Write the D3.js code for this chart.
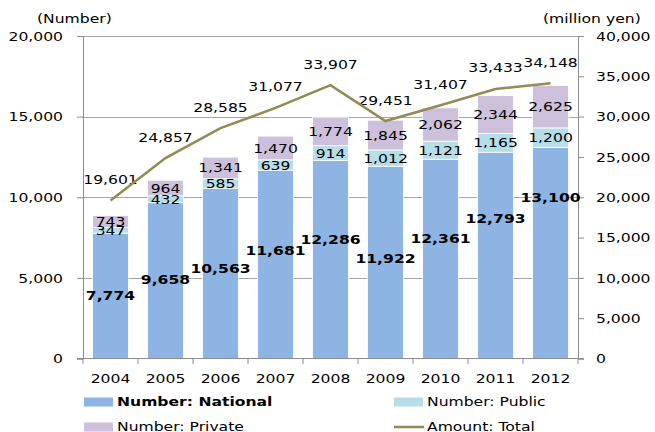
<!DOCTYPE html>
<html>
<head>
<meta charset="utf-8">
<script src="https://cdn.jsdelivr.net/npm/d3@7"></script>
<style>
  body { margin: 0; background: #fff; }
  svg { font-family: "DejaVu Sans", Verdana, sans-serif; }
</style>
</head>
<body>
<svg id="chart" width="655" height="432"></svg>
<script>
"use strict";

const years = ["2004", "2005", "2006", "2007", "2008", "2009", "2010", "2011", "2012"];
const national = [7774, 9658, 10563, 11681, 12286, 11922, 12361, 12793, 13100];
const publicNum = [347, 432, 585, 639, 914, 1012, 1121, 1165, 1200];
const privateNum = [743, 964, 1341, 1470, 1774, 1845, 2062, 2344, 2625];
const amountTotal = [19601, 24857, 28585, 31077, 33907, 29451, 31407, 33433, 34148];
// where Excel left the bold national labels (in "Number" units)
const nationalLabelAt = [3880, 4870, 5600, 6680, 7360, 6220, 7470, 8660, 10010];
const leftTicks = [0, 5000, 10000, 15000, 20000];
const rightTicks = [0, 5000, 10000, 15000, 20000, 25000, 30000, 35000, 40000];

const colors = {
    national: "#8db4e2",
    public: "#b7dee8",
    private: "#ccc0da",
    line: "#948a54",
    grid: "#a6a6a6",
    axis: "#8c8c8c"
};

// the original picture is stretched sideways, so text is too
const SX = 1.2;
const fmt = d3.format(",");

const svg = d3.select("#chart");

const x = d3.scaleBand().domain(years).range([83, 578]).paddingInner(0.35).paddingOuter(0.175);
const yL = d3.scaleLinear().domain([0, 20000]).range([358.5, 36]);
const yR = d3.scaleLinear().domain([0, 40000]).range([358.5, 36]);

function label(g, txt, px, py, anchor, bold, size) {
    return g.append("text")
        .attr("transform", `translate(${px},${py}) scale(${SX},1)`)
        .attr("text-anchor", anchor)
        .attr("dominant-baseline", "central")
        .style("font-size", (size || 13) + "px")
        .style("font-weight", bold ? "bold" : null)
        .attr("fill", "#000")
        .text(txt);
}

// gridlines
svg.append("g").selectAll("line")
    .data(leftTicks.filter(d => d > 0))
    .enter().append("line")
    .attr("x1", 83).attr("x2", 578)
    .attr("y1", d => Math.round(yL(d)) + 0.5).attr("y2", d => Math.round(yL(d)) + 0.5)
    .attr("stroke", colors.grid).attr("stroke-width", 1);

// stacked bars
const rows = years.map((yr, i) => ({
    year: yr, segs: [
        {key: "national", v0: 0, v1: national[i]},
        {key: "public", v0: national[i], v1: national[i] + publicNum[i]},
        {key: "private", v0: national[i] + publicNum[i], v1: national[i] + publicNum[i] + privateNum[i]}
    ]
}));

const barG = svg.append("g");
rows.forEach(r => {
    barG.selectAll(null)
        .data(r.segs)
        .enter().append("rect")
        .attr("x", x(r.year))
        .attr("width", x.bandwidth())
        .attr("y", d => yL(d.v1))
        .attr("height", d => yL(d.v0) - yL(d.v1))
        .attr("fill", d => colors[d.key])
        .attr("stroke", "#fff")
        .attr("stroke-width", 0.8);
});

// axes
const axisL = svg.append("g")
    .attr("transform", "translate(83,0)")
    .call(d3.axisLeft(yL).tickValues(leftTicks).tickSize(6).tickPadding(0).tickFormat(fmt));
axisL.selectAll("text").attr("x", -20 / SX).attr("transform", `scale(${SX},1)`)
    .style("font-size", "13px").style("font-family", "DejaVu Sans, sans-serif");

const axisR = svg.append("g")
    .attr("transform", "translate(578,0)")
    .call(d3.axisRight(yR).tickValues(rightTicks).tickSize(6).tickPadding(0).tickFormat(fmt));
axisR.selectAll("text").attr("x", 18 / SX).attr("transform", `scale(${SX},1)`)
    .style("font-size", "13px").style("font-family", "DejaVu Sans, sans-serif");

[axisL, axisR].forEach(a => {
    a.selectAll("path, line").attr("stroke", colors.axis);
    a.select(".domain").attr("stroke", colors.axis);
});

// bottom axis: ticks on the category boundaries
const bottom = svg.append("g");
const bounds = years.map(yr => x(yr) - x.step() * x.paddingInner() / 2).concat([578]);
bottom.append("line")
    .attr("x1", 77).attr("x2", 584)
    .attr("y1", 358.5).attr("y2", 358.5)
    .attr("stroke", colors.axis);
bottom.selectAll("line.tk")
    .data(bounds)
    .enter().append("line")
    .attr("class", "tk")
    .attr("x1", d => d).attr("x2", d => d)
    .attr("y1", 358.5).attr("y2", 364)
    .attr("stroke", colors.axis);
years.forEach(yr => label(bottom, yr, x(yr) + x.bandwidth() / 2, 378, "middle"));

// axis titles
label(svg, "(Number)", 37, 18, "start");
label(svg, "(million yen)", 543, 18, "start");

// bar labels
const labG = svg.append("g");
years.forEach((yr, i) => {
    const cx = x(yr) + x.bandwidth() / 2;
    label(labG, fmt(national[i]), cx, yL(nationalLabelAt[i]), "middle", true);
    label(labG, fmt(publicNum[i]), cx, yL(national[i] + publicNum[i] / 2), "middle");
    label(labG, fmt(privateNum[i]), cx, yL(national[i] + publicNum[i] + privateNum[i] / 2), "middle");
});

// amount line
const line = d3.line()
    .x((d, i) => x(years[i]) + x.bandwidth() / 2)
    .y(d => yR(d));
svg.append("path")
    .datum(amountTotal)
    .attr("d", line)
    .attr("fill", "none")
    .attr("stroke", colors.line)
    .attr("stroke-width", 2.5);
amountTotal.forEach((v, i) => {
    label(labG, fmt(v), x(years[i]) + x.bandwidth() / 2, yR(v) - 21, "middle");
});

// legend
const legend = svg.append("g");
const items = [
    {name: "Number: National", color: colors.national, kind: "box", bold: true, lx: 84, ly: 402},
    {name: "Number: Public", color: colors.public, kind: "box", bold: false, lx: 394, ly: 402},
    {name: "Number: Private", color: colors.private, kind: "box", bold: false, lx: 84, ly: 427},
    {name: "Amount: Total", color: colors.line, kind: "line", bold: false, lx: 394, ly: 427}
];
items.forEach(it => {
    if (it.kind === "box") {
        legend.append("rect")
            .attr("x", it.lx).attr("y", it.ly - 4.5)
            .attr("width", 29).attr("height", 9)
            .attr("fill", it.color);
    } else {
        legend.append("line")
            .attr("x1", it.lx).attr("x2", it.lx + 30)
            .attr("y1", it.ly).attr("y2", it.ly)
            .attr("stroke", it.color).attr("stroke-width", 2.5);
    }
    label(legend, it.name, it.lx + 33, it.ly - 1, "start", it.bold);
});
</script>
</body>
</html>
